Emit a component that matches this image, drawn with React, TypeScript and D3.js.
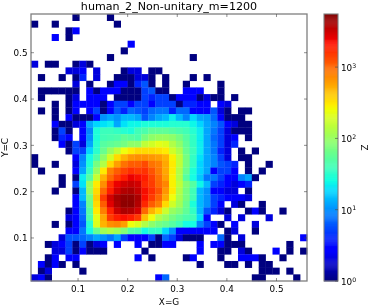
import * as d3 from "d3";

const title = "human_2_Non-unitary_m=1200";
const xLabel = "X=G";
const yLabel = "Y=C";
const zLabel = "Z";

const xDomain = [0.0052, 0.5615];
const yDomain = [0.0071, 0.5836];
const zDomain = [1, 5560];

const xTicks = [0.1, 0.2, 0.3, 0.4, 0.5];
const yTicks = [0.1, 0.2, 0.3, 0.4, 0.5];
const zTicks = [1, 10, 100, 1000];

// counts per bin, top row first, trailing empty bins left out
const counts: number[][] = [
  [0,0,0,0,0,0,1,0,0,0, 0,1],
  [1,0,0,1,0,0,0,0,0,0, 0,0,1],
  [0,0,0,0,0,1,3],
  [0,0,0,3,0,1],
  [0,0,0,0,0,0,0,0,0,0, 0,0,0,0,3],
  [0,0,0,0,0,0,0,0,0,0, 0,0,0,1],
  [0,0,0,0,0,0,0,0,0,0, 0,1,0,0,0,0,0,0,0,0, 0,0,0,1],
  [2,0,1,1,0,0,1,2,1],
  [0,0,0,0,0,2,2,3,0,2, 0,0,0,1,2,2,0,1,1],
  [0,1,0,0,1,0,1,4,0,2, 0,0,1,1,1,2,2,1,0,1, 0,0,0,1,0,1],
  [0,0,0,0,0,0,2,0,1,0, 0,1,3,3,1,4,6,1,0,1, 0,0,1,0,0,0,0,1],
  [0,1,1,1,1,1,1,0,3,1, 3,3,3,1,1,1,5,6,1,1, 0,0,3,3,3,0,0,1],
  [0,1,0,0,0,1,2,0,3,3, 3,0,1,1,1,1,5,4,5,5, 1,3,3,3,1,2,1,1,0,1],
  [0,0,0,1,0,1,3,3,3,3, 1,3,5,5,3,5,5,3,5,5, 5,1,4,4,3,3,0,3,2],
  [0,1,0,1,0,1,3,0,3,5, 1,3,6,4,7,6,5,7,8,8, 4,7,7,3,3,3,6,2,1,0, 1,1],
  [0,0,0,1,0,3,1,1,1,3, 10,12,10,14,14,12,6,9,12,14, 22,14,9,18,12,11,7,3,1,1, 1],
  [0,0,0,3,1,1,2,3,12,18, 20,22,12,20,24,24,28,28,28,28, 30,30,30,24,18,12,9,6,3,2, 1,1],
  [0,0,0,1,5,1,0,3,9,28, 38,38,35,30,28,40,45,55,55,55, 50,45,40,30,22,12,8,5,2,1, 1,1],
  [0,0,0,1,4,3,0,3,10,28, 40,42,45,55,50,45,70,90,100,100, 90,70,50,35,22,12,7,5,2,3, 0,1],
  [0,0,0,0,3,1,5,2,12,30, 50,55,60,70,90,90,150,180,220,200, 130,90,55,35,22,12,8,5,2,4],
  [0,0,0,0,0,1,5,5,18,32, 60,100,150,250,300,350,350,350,330,300, 180,120,60,38,22,12,8,4,2,0, 1,0,1],
  [1,0,0,0,0,0,3,9,25,45, 90,180,350,500,650,700,700,650,600,500, 280,150,70,35,20,12,9,5,2,0, 1,1],
  [1,0,0,1,0,0,2,10,28,70, 130,350,600,900,1100,1100,1300,900,800,550, 300,150,70,35,18,12,9,6,5,4, 0,1,0,0,1],
  [0,1,0,0,0,0,3,12,35,100, 300,800,1100,1400,1700,1500,1600,1200,850,550, 300,130,60,28,18,12,3,5,5,3, 0,1,0,1],
  [0,0,0,0,1,0,1,22,50,160, 500,1000,1500,2000,2500,2300,2000,1400,950,600, 280,130,50,25,16,8,8,5,3,3, 9,12,1],
  [0,0,0,0,1,0,5,20,100,300, 700,1700,2500,3000,3300,3000,1800,1500,1000,750, 280,150,80,50,24,14,5,4,3,2, 3,4],
  [0,0,0,1,0,0,1,14,100,350, 1000,2000,3000,3800,4000,3300,2300,1700,1200,650, 300,130,70,40,14,10,3,3,2,2, 0,1],
  [0,0,0,0,0,0,3,14,70,400, 1500,3000,4200,4800,4800,4000,2200,1500,1000,550, 250,120,70,40,14,10,5,4,3,3, 3,2],
  [0,0,0,0,0,0,3,9,60,350, 1100,2700,4000,5000,5000,3800,1800,1100,800,350, 180,110,60,28,14,10,5,3,0,2, 1,0,0,1],
  [0,0,0,0,0,1,3,8,50,300, 800,1900,3200,4000,3800,3000,1000,500,350,170, 100,80,55,35,14,6,4,2,1,0, 0,1,3,1,0,0,1],
  [0,0,0,0,0,2,3,7,45,220, 550,1500,2000,2200,2000,1500,450,250,130,100, 70,55,45,40,18,3,0,0,2,0, 2,0,0,0,2],
  [0,0,0,1,0,1,3,6,30,200, 500,700,750,600,250,200,130,90,70,60, 50,40,25,25,9,5,3,1,0,3, 0,0,2],
  [0,0,0,0,0,3,3,8,25,60, 110,130,110,80,50,45,25,35,35,18, 10,3,3,3,3,3,3,0,1,2, 0,0,1],
  [0,0,0,0,2,6,6,7,9,12, 10,8,12,5,3,3,3,5,1,7, 5,2,1,1,1,0,0,7,1,0, 2,0,0,0,0,0,0,0,0,3],
  [0,0,1,2,3,5,1,5,1,2, 3,0,3,0,0,3,0,1,1,3, 3,0,0,0,3,0,3,3,1,1, 1,0,0,0,0,0,0,1],
  [0,0,0,2,2,5,1,3,1,1, 1,0,0,0,0,0,1,0,0,0, 0,0,0,0,3,0,0,1,1,0, 2,1,0,0,0,3,0,1,0,1],
  [0,0,1,3,0,3,3,0,0,0, 0,0,0,0,0,3,0,1,0,0, 0,0,1,3,0,0,0,1,0,0, 3,3,3,1,0,0,1],
  [0,3,1,3,1,0,1,0,0,0, 0,0,0,0,0,0,0,0,0,0, 0,0,0,0,1,0,0,0,1,1, 0,1,0,1,1],
  [0,1,2,0,0,0,0,1,0,0, 0,0,0,0,0,0,0,0,0,0, 0,0,0,0,0,0,0,0,0,0, 0,0,0,1,1,1,0,1],
  [2,3,1,0,0,0,0,0,0,0, 0,0,0,0,0,0,0,0,3,7, 0,0,0,0,0,0,0,0,0,0, 0,0,1,1,0,0,0,0,1],
];

const width = 368;
const height = 307;
const plot = { left: 31, right: 307, top: 14, bottom: 281 };
const bar = { left: 324, right: 338 };
const nBins = 40;
const fontFamily = "'DejaVu Sans', sans-serif";
const frameColor = "#7f7f7f";
const tickFont = 8.8;
const labelFont = 8.9;

// matplotlib's jet
const jetR = d3.scaleLinear().domain([0, 0.35, 0.66, 0.89, 1]).range([0, 0, 1, 1, 0.5]);
const jetG = d3.scaleLinear().domain([0, 0.125, 0.375, 0.64, 0.91, 1]).range([0, 0, 1, 1, 0, 0]);
const jetB = d3.scaleLinear().domain([0, 0.11, 0.34, 0.65, 1]).range([0.5, 1, 1, 0, 0]);
const jet = (t: number) =>
  d3.rgb(jetR(t) * 255, jetG(t) * 255, jetB(t) * 255).formatHex();

const App = () => {
  const x = d3.scaleLinear().domain(xDomain).range([plot.left, plot.right]);
  const y = d3.scaleLinear().domain(yDomain).range([plot.bottom, plot.top]);
  const colorT = d3.scaleLog().domain(zDomain).range([0, 1]);
  const zY = d3.scaleLog().domain(zDomain).range([plot.bottom, plot.top]);

  const xBin = (xDomain[1] - xDomain[0]) / nBins;
  const yBin = (yDomain[1] - yDomain[0]) / nBins;
  const barSteps = d3.range(256);
  const plotW = plot.right - plot.left;

  return (
    <svg
      width={width}
      height={height}
      style={{ position: "absolute", left: 0, top: 0 }}
      fontFamily={fontFamily}
    >
      <defs>
        <filter id="soft" filterUnits="userSpaceOnUse" x="0" y="0" width={width} height={height}>
          <feGaussianBlur stdDeviation="0.35" />
        </filter>
      </defs>
      <rect width={width} height={height} fill="#fff" />
      <g filter="url(#soft)">
        {counts.map((row, r) =>
          row.map((v, c) => {
            if (!v) return null;
            const x0 = x(xDomain[0] + c * xBin);
            const x1 = x(xDomain[0] + (c + 1) * xBin);
            const y0 = y(yDomain[1] - r * yBin);
            const y1 = y(yDomain[1] - (r + 1) * yBin);
            return (
              <rect
                key={`${r}-${c}`}
                x={x0}
                y={y0}
                width={x1 - x0 + 0.3}
                height={y1 - y0 + 0.3}
                fill={jet(colorT(v))}
              />
            );
          })
        )}
        <rect
          x={plot.left}
          y={plot.top}
          width={plotW}
          height={plot.bottom - plot.top}
          fill="none"
          stroke={frameColor}
          strokeWidth={1.3}
        />
        {xTicks.map((t) => (
          <g key={t}>
            <line x1={x(t)} x2={x(t)} y1={plot.bottom} y2={plot.bottom - 3} stroke="#444" strokeWidth={0.6} />
            <line x1={x(t)} x2={x(t)} y1={plot.top} y2={plot.top + 3} stroke="#444" strokeWidth={0.6} />
            <text x={x(t)} y={292} fontSize={tickFont} textAnchor="middle" fill="#000">
              {t.toFixed(1)}
            </text>
          </g>
        ))}
        {yTicks.map((t) => (
          <g key={t}>
            <line x1={plot.left} x2={plot.left + 3} y1={y(t)} y2={y(t)} stroke="#444" strokeWidth={0.6} />
            <line x1={plot.right} x2={plot.right - 3} y1={y(t)} y2={y(t)} stroke="#444" strokeWidth={0.6} />
            <text x={27.5} y={y(t) + 3.2} fontSize={tickFont} textAnchor="end" fill="#000">
              {t.toFixed(1)}
            </text>
          </g>
        ))}
        <text x={169} y={10} fontSize={11.1} textAnchor="middle" fill="#000">
          {title}
        </text>
        <text x={169} y={305} fontSize={labelFont} textAnchor="middle" fill="#000">
          {xLabel}
        </text>
        <text
          transform={`translate(8,${(plot.top + plot.bottom) / 2}) rotate(-90)`}
          fontSize={labelFont}
          textAnchor="middle"
          fill="#000"
        >
          {yLabel}
        </text>

        {barSteps.map((i) => {
          const t0 = i / barSteps.length;
          const t1 = (i + 1) / barSteps.length;
          const yTop = plot.bottom + (plot.top - plot.bottom) * t1;
          const yBot = plot.bottom + (plot.top - plot.bottom) * t0;
          return (
            <rect
              key={i}
              x={bar.left}
              y={yTop}
              width={bar.right - bar.left}
              height={yBot - yTop + 0.4}
              fill={jet(t0)}
            />
          );
        })}
        <rect
          x={bar.left}
          y={plot.top}
          width={bar.right - bar.left}
          height={plot.bottom - plot.top}
          fill="none"
          stroke={frameColor}
          strokeWidth={1.1}
        />
        {zTicks.map((t, i) => (
          <g key={t}>
            <line x1={bar.right} x2={bar.right - 3} y1={zY(t)} y2={zY(t)} stroke="#444" strokeWidth={0.6} />
            <text x={341} y={zY(t) + 4} fontSize={tickFont} fill="#000">
              10
              <tspan dy={-3.5} fontSize={6.2}>
                {i}
              </tspan>
            </text>
          </g>
        ))}
        <text
          transform={`translate(360.5,${(plot.top + plot.bottom) / 2}) rotate(90)`}
          fontSize={labelFont}
          textAnchor="middle"
          fill="#000"
        >
          {zLabel}
        </text>
      </g>
    </svg>
  );
};

export default App;
